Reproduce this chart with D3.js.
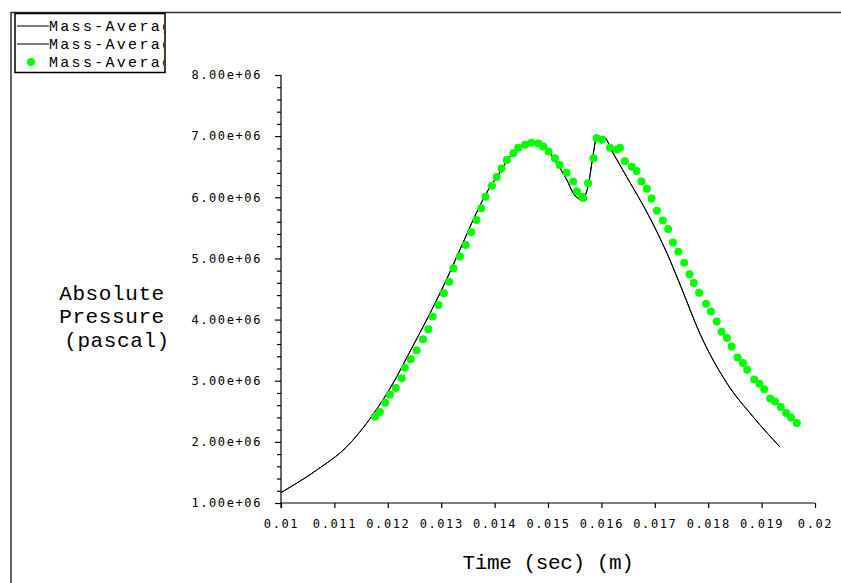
<!DOCTYPE html>
<html>
<head>
<meta charset="utf-8">
<script src="https://cdn.jsdelivr.net/npm/d3@7"></script>
<style>
  body { margin: 0; background: #fff; }
  text { font-family: "Liberation Mono", "DejaVu Sans Mono", monospace; fill: #000; }
</style>
</head>
<body>
<script>
var width = 841;
var height = 583;

// time (s) and absolute pressure (Pa)
var lineTime = [0.0100, 0.01067, 0.01123, 0.01160, 0.01217, 0.01238, 0.01276, 0.01307, 0.01338, 0.01363, 0.01388, 0.01413, 0.01423, 0.01443, 0.01460, 0.01485, 0.01516, 0.01535, 0.01547, 0.01563, 0.01575, 0.01585, 0.01591, 0.01604, 0.01622, 0.01647, 0.01691, 0.01722, 0.01747, 0.01785, 0.01835, 0.01884, 0.01934];
var linePress1 = [1.17e6, 1.54e6, 1.92e6, 2.30e6, 3.07e6, 3.42e6, 4.05e6, 4.60e6, 5.20e6, 5.69e6, 6.12e6, 6.45e6, 6.60e6, 6.80e6, 6.88e6, 6.89e6, 6.56e6, 6.29e6, 6.07e6, 5.96e6, 6.18e6, 6.72e6, 6.99e6, 6.99e6, 6.72e6, 6.34e6, 5.66e6, 5.10e6, 4.58e6, 3.76e6, 2.96e6, 2.41e6, 1.92e6];
var linePress2 = [1.17e6, 1.54e6, 1.92e6, 2.30e6, 3.07e6, 3.42e6, 4.05e6, 4.60e6, 5.20e6, 5.69e6, 6.12e6, 6.45e6, 6.60e6, 6.80e6, 6.88e6, 6.89e6, 6.56e6, 6.29e6, 6.07e6, 5.96e6, 6.18e6, 6.72e6, 6.99e6, 6.99e6, 6.72e6, 6.34e6, 5.66e6, 5.10e6, 4.58e6, 3.76e6, 2.96e6, 2.41e6, 1.92e6];

var dotTime = [0.01176, 0.01185, 0.01195, 0.01204, 0.01215, 0.01226, 0.01232, 0.01243, 0.01254, 0.01266, 0.01276, 0.01284, 0.01295, 0.01305, 0.01315, 0.01323, 0.01335, 0.01346, 0.01356, 0.01366, 0.01375, 0.01383, 0.01395, 0.01404, 0.01413, 0.01423, 0.01435, 0.01444, 0.01457, 0.01469, 0.01482, 0.01491, 0.01501, 0.01513, 0.01522, 0.01535, 0.01547, 0.01554, 0.01563, 0.01566, 0.01575, 0.01585, 0.01591, 0.01601, 0.01616, 0.01629, 0.01635, 0.01644, 0.01657, 0.01666, 0.01675, 0.01685, 0.01694, 0.01704, 0.01715, 0.01725, 0.01734, 0.01744, 0.01755, 0.01765, 0.01773, 0.01783, 0.01796, 0.01805, 0.01816, 0.01825, 0.01835, 0.01844, 0.01855, 0.01865, 0.01873, 0.01886, 0.01896, 0.01905, 0.01916, 0.01925, 0.01936, 0.01946, 0.01955, 0.01966];
var dotPress = [2.41e6, 2.49e6, 2.64e6, 2.77e6, 2.88e6, 3.04e6, 3.21e6, 3.35e6, 3.50e6, 3.68e6, 3.84e6, 4.05e6, 4.24e6, 4.43e6, 4.62e6, 4.84e6, 5.03e6, 5.22e6, 5.43e6, 5.63e6, 5.82e6, 6.01e6, 6.19e6, 6.33e6, 6.47e6, 6.61e6, 6.72e6, 6.81e6, 6.86e6, 6.89e6, 6.88e6, 6.83e6, 6.75e6, 6.64e6, 6.53e6, 6.40e6, 6.26e6, 6.10e6, 6.01e6, 5.99e6, 6.23e6, 6.64e6, 6.97e6, 6.94e6, 6.81e6, 6.78e6, 6.81e6, 6.59e6, 6.50e6, 6.43e6, 6.26e6, 6.14e6, 5.98e6, 5.78e6, 5.62e6, 5.48e6, 5.26e6, 5.11e6, 4.93e6, 4.74e6, 4.60e6, 4.44e6, 4.26e6, 4.13e6, 3.97e6, 3.80e6, 3.70e6, 3.56e6, 3.38e6, 3.29e6, 3.18e6, 3.02e6, 2.95e6, 2.86e6, 2.71e6, 2.66e6, 2.57e6, 2.47e6, 2.40e6, 2.31e6];

var xTicks = [0.01, 0.011, 0.012, 0.013, 0.014, 0.015, 0.016, 0.017, 0.018, 0.019, 0.02];
var yTicks = [1e6, 2e6, 3e6, 4e6, 5e6, 6e6, 7e6, 8e6];
var legendNames = ['Mass-Average', 'Mass-Average', 'Mass-Average'];

var x = d3.scaleLinear().domain([0.01, 0.02]).range([281, 815]);
var y = d3.scaleLinear().domain([1e6, 8e6]).range([503, 75]);

var svg = d3.select('body').append('svg').attr('width', width).attr('height', height);

// page frame
svg.append('path').attr('d', 'M11,583V12.5H841').attr('fill', 'none').attr('stroke', '#333').attr('stroke-width', 1.5);

function isMajor(d) {
  return yTicks.some(function(t) { return Math.abs(t - d) < 1; });
}

// y axis
var yAxis = d3.axisLeft(y).tickValues(d3.range(1e6, 8.0001e6, 2e5)).tickSize(4).tickFormat(function(d) {
  return isMajor(d) ? d.toExponential(2).replace('e+', 'e+0') : '';
});
var gy = svg.append('g').attr('transform', 'translate(281,0)').call(yAxis);
gy.select('.domain').attr('d', 'M0,75V508');
gy.selectAll('.tick').filter(isMajor).select('line').attr('x2', -6);
gy.selectAll('text').attr('x', -19);

// x axis
var xAxis = d3.axisBottom(x).tickValues(xTicks).tickSize(5).tickFormat(function(d) { return String(+d.toFixed(3)); });
var gx = svg.append('g').attr('transform', 'translate(0,503)').call(xAxis);
gx.select('.domain').attr('d', 'M281,0H815');
gx.selectAll('text').attr('y', 16);
svg.selectAll('.domain, .tick line').attr('stroke', '#000').attr('stroke-width', 1.2);
svg.selectAll('.tick text').style('font-family', '"DejaVu Sans Mono", monospace').style('font-size', '12px').style('letter-spacing', '1.6px');

// titles
svg.append('text').attr('x', 548).attr('y', 569).attr('text-anchor', 'middle')
  .style('font-size', '21px').style('letter-spacing', '-0.4px').text('Time (sec) (m)');
var yl = svg.append('text').attr('text-anchor', 'middle').style('font-size', '21px').style('letter-spacing', '0.6px');
yl.append('tspan').attr('x', 112).attr('y', 300).text('Absolute');
yl.append('tspan').attr('x', 112).attr('y', 323).text('Pressure');
yl.append('tspan').attr('x', 117).attr('y', 347).text('(pascal)');

// series
var line = d3.line().curve(d3.curveMonotoneX).x(function(d) { return x(d[0]); }).y(function(d) { return y(d[1]); });
svg.append('path').datum(d3.zip(lineTime, linePress1)).attr('d', line)
  .attr('fill', 'none').attr('stroke', '#000').attr('stroke-width', 1);
svg.append('path').datum(d3.zip(lineTime, linePress2)).attr('d', line)
  .attr('fill', 'none').attr('stroke', '#000').attr('stroke-width', 1);
svg.append('g').selectAll('circle').data(d3.zip(dotTime, dotPress)).enter().append('circle')
  .attr('cx', function(d) { return x(d[0]); }).attr('cy', function(d) { return y(d[1]); })
  .attr('r', 4).attr('fill', '#00ff00');

// legend
svg.append('clipPath').attr('id', 'lc').append('rect').attr('x', 15).attr('y', 13).attr('width', 149).attr('height', 60);
var lg = svg.append('g');
lg.append('rect').attr('x', 15).attr('y', 13.5).attr('width', 150).attr('height', 59)
  .attr('fill', '#fff').attr('stroke', '#000').attr('stroke-width', 1.5);
var rows = lg.append('g').attr('clip-path', 'url(#lc)').selectAll('.row').data(legendNames).enter().append('g').attr('class', 'row')
  .attr('transform', function(d, i) { return 'translate(0,' + (26 + i * 18) + ')'; });
rows.filter(function(d, i) { return i < 2; }).append('line')
  .attr('x1', 17).attr('x2', 49).attr('stroke', '#000').attr('stroke-width', 1);
rows.filter(function(d, i) { return i == 2; }).append('circle')
  .attr('cx', 31).attr('r', 4).attr('fill', '#00ff00');
rows.append('text').attr('x', 49).attr('y', 5)
  .style('font-size', '15px').style('letter-spacing', '2.3px').text(function(d) { return d; });
</script>
</body>
</html>
